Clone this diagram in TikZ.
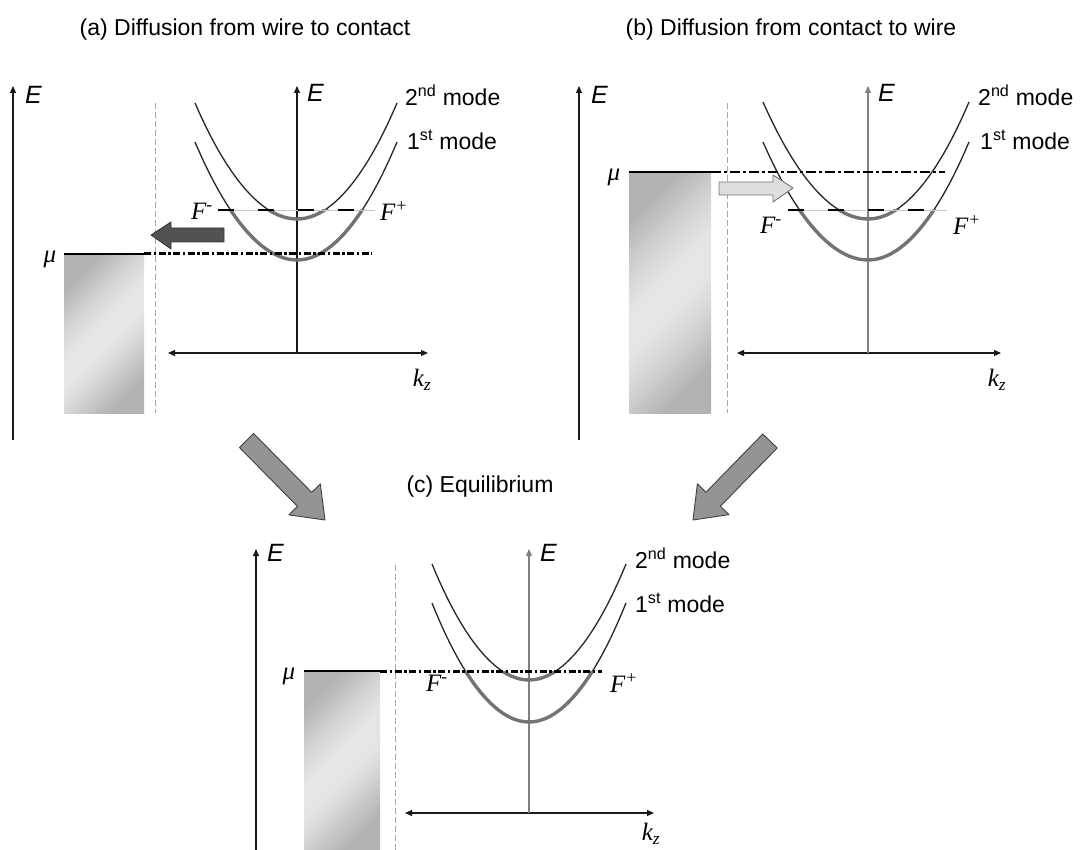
\documentclass[tikz,border=0pt]{standalone}
\usepackage{fontspec}
\setmainfont{Liberation Sans}
\newfontfamily\serif{Liberation Serif}
\usetikzlibrary{arrows.meta}
\pgfdeclareverticalshading{contactsh}{100bp}{color(0bp)=(black!30); color(25bp)=(black!30); color(38bp)=(black!16); color(46bp)=(black!10); color(54bp)=(black!10); color(62bp)=(black!16); color(75bp)=(black!30); color(100bp)=(black!30)}
\tikzset{
  tip/.tip={Triangle[length=7pt,width=6pt]},
  axis/.style={line width=1.2pt, draw=black!90, -tip},
  axisg/.style={line width=1.2pt, draw=black!50, -tip},
  kax/.style={line width=1.2pt, draw=black!90, tip-tip},
  vdash/.style={draw=black!35, line width=0.9pt, dash pattern=on 6pt off 3pt},
  contact/.style={shading=contactsh, shading angle=45},
  band/.style={line width=1.3pt, draw=black!85},
  occ/.style={line width=3.4pt, draw=black!55},
  fermi/.style={line width=1.4pt, dash pattern=on 16pt off 24pt},
  fermibg/.style={line width=0.8pt, draw=black!22},
  mudash/.style={line width=3pt, dash pattern=on 7pt off 2.5pt on 2.5pt off 2.5pt},
  mudashthin/.style={line width=1.3pt, dash pattern=on 10pt off 3pt on 3pt off 3pt},
  lab/.style={inner sep=0pt, font=\fontsize{23}{27}\selectfont},
  elab/.style={inner sep=0pt, font=\fontsize{25}{29}\selectfont\itshape},
  slab/.style={inner sep=0pt, font=\fontsize{25}{29}\selectfont\serif\itshape},
  bigarrow/.style={fill=black!42, draw=black!75, line width=0.9pt, line join=round},
}
\begin{document}
\begin{tikzpicture}[x=1pt,y=-1pt]
\useasboundingbox (0,0) rectangle (1088,850);

% ---------- titles ----------
\node[lab] (ta) at (245,30) {(a) Diffusion from wire to contact};
\node[lab] (tb) at (791,30) {(b) Diffusion from contact to wire};
\node[lab] (tc) at (480,487) {(c) Equilibrium};

% =============== panel (a) ===============
\coordinate (aLb) at (13,440); \coordinate (aLt) at (13,86);
\draw[axis] (aLb) -- (aLt);
\node[elab, anchor=west] (aLE) at (25,95) {E};
\coordinate (aVt) at (155,103); \coordinate (aVb) at (155,413);
\draw[vdash] (aVt) -- (aVb);
\shade[contact] (64,254) rectangle (144,414);
\coordinate (aKl) at (168,353); \coordinate (aKr) at (428,353);
\draw[kax] (aKl) -- (aKr);
\coordinate (aEb) at (297,353); \coordinate (aEt) at (297,86);
\draw[axis] (aEb) -- (aEt);
\node[elab, anchor=west] (aIE) at (307,93) {E};
\node[slab] (akz) at (422,380) {k\textsubscript{z}};
% bands
\draw[band] (195,103) parabola bend (297,219) (397,103);
\draw[band] (195,142) parabola bend (297,260) (397,142);
\begin{scope}
  \clip (150,210) rectangle (450,300);
  \draw[occ] (195,103) parabola bend (297,219) (397,103);
  \draw[occ] (195,142) parabola bend (297,260) (397,142);
\end{scope}
% quasi-Fermi level
\coordinate (aFl) at (218,210); \coordinate (aFr) at (375,210);
\draw[fermibg] (aFl) -- (aFr);
\draw[fermi] (aFl) -- (aFr);
\node[slab] (aFm) at (202,211) {F\textsuperscript{-}};
\node[slab] (aFp) at (394,211) {F\textsuperscript{+}};
% chemical potential
\coordinate (aMl) at (64,254); \coordinate (aMc) at (144,254); \coordinate (aMr) at (372,254);
\draw[line width=2.6pt] (aMl) -- (aMc);
\draw[mudash] (aMc) -- (aMr);
\node[slab] (amu) at (50,259) {μ};
% flow arrow
\draw[fill=black!68, draw=black!80, line width=0.8pt, line join=round]
  (151,235) -- (171,222) -- (171,228) -- (224,228) -- (224,242) -- (171,242) -- (171,249) -- cycle;
\node[lab, anchor=west] (a2) at (405,95) {2\textsuperscript{nd} mode};
\node[lab, anchor=west] (a1) at (407,140) {1\textsuperscript{st} mode};

% =============== panel (b) ===============
\coordinate (bLb) at (579,440); \coordinate (bLt) at (579,86);
\draw[axis] (bLb) -- (bLt);
\node[elab, anchor=west] (bLE) at (591,95) {E};
\coordinate (bVt) at (727,103); \coordinate (bVb) at (727,413);
\draw[vdash] (bVt) -- (bVb);
\shade[contact] (629,172) rectangle (711,414);
\coordinate (bKl) at (737,353); \coordinate (bKr) at (1001,353);
\draw[kax] (bKl) -- (bKr);
\coordinate (bEb) at (868,353); \coordinate (bEt) at (868,86);
\draw[axisg] (bEb) -- (bEt);
\node[elab, anchor=west] (bIE) at (878,93) {E};
\node[slab] (bkz) at (997,380) {k\textsubscript{z}};
\draw[band] (763,102) parabola bend (868,219) (969,102);
\draw[band] (763,142) parabola bend (868,260) (969,142);
\begin{scope}
  \clip (720,210) rectangle (1020,300);
  \draw[occ] (763,102) parabola bend (868,219) (969,102);
  \draw[occ] (763,142) parabola bend (868,260) (969,142);
\end{scope}
\coordinate (bFl) at (788,210); \coordinate (bFr) at (947,210);
\draw[fermibg] (bFl) -- (bFr);
\draw[fermi] (bFl) -- (bFr);
\node[slab] (bFm) at (771,225) {F\textsuperscript{-}};
\node[slab] (bFp) at (967,225) {F\textsuperscript{+}};
\coordinate (bMl) at (629,172); \coordinate (bMc) at (711,172); \coordinate (bMr) at (945,172);
\draw[line width=1.4pt] (bMl) -- (bMc);
\draw[mudashthin] (bMc) -- (bMr);
\node[slab] (bmu) at (614,177) {μ};
\draw[fill=black!13, draw=black!55, line width=0.9pt, line join=round]
  (719,182) -- (773,182) -- (773,175) -- (793,188) -- (773,202) -- (773,195) -- (719,195) -- cycle;
\node[lab, anchor=west] (b2) at (978,95) {2\textsuperscript{nd} mode};
\node[lab, anchor=west] (b1) at (980,140) {1\textsuperscript{st} mode};

% =============== big arrows ===============
\draw[bigarrow] (239.4,447.5) -- (297.5,506.4) -- (288.9,514.9) -- (325,520)
  -- (320.3,483.9) -- (311.7,492.4) -- (253.6,433.5) -- cycle;
\draw[bigarrow] (777.2,448) -- (720.4,506.2) -- (729,514.6) -- (693,520)
  -- (697.4,483.8) -- (706,492.2) -- (762.8,434) -- cycle;

% =============== panel (c) ===============
\coordinate (cLb) at (256,852); \coordinate (cLt) at (256,549);
\draw[axis] (cLb) -- (cLt);
\node[elab, anchor=west] (cLE) at (267,553) {E};
\coordinate (cVt) at (395,565); \coordinate (cVb) at (395,852);
\draw[vdash] (cVt) -- (cVb);
\shade[contact] (304,671) rectangle (380,852);
\coordinate (cKl) at (405,813); \coordinate (cKr) at (654,813);
\draw[kax] (cKl) -- (cKr);
\coordinate (cEb) at (529,813); \coordinate (cEt) at (529,549);
\draw[axisg] (cEb) -- (cEt);
\node[elab, anchor=west] (cIE) at (540,553) {E};
\node[slab] (ckz) at (651,834) {k\textsubscript{z}};
\draw[band] (432,564) parabola bend (529,680) (626,564);
\draw[band] (432,603) parabola bend (529,722) (626,603);
\begin{scope}
  \clip (400,671) rectangle (660,760);
  \draw[occ] (432,564) parabola bend (529,680) (626,564);
  \draw[occ] (432,603) parabola bend (529,722) (626,603);
\end{scope}
\coordinate (cMl) at (304,671); \coordinate (cMc) at (380,671); \coordinate (cMr) at (602,671);
\draw[line width=2.6pt] (cMl) -- (cMc);
\draw[mudash] (cMc) -- (cMr);
\node[slab] (cmu) at (289,676) {μ};
\node[slab] (cFm) at (437,683) {F\textsuperscript{-}};
\node[slab] (cFp) at (624,683) {F\textsuperscript{+}};
\node[lab, anchor=west] (c2) at (635,558) {2\textsuperscript{nd} mode};
\node[lab, anchor=west] (c1) at (635,603) {1\textsuperscript{st} mode};
\end{tikzpicture}
\end{document}
